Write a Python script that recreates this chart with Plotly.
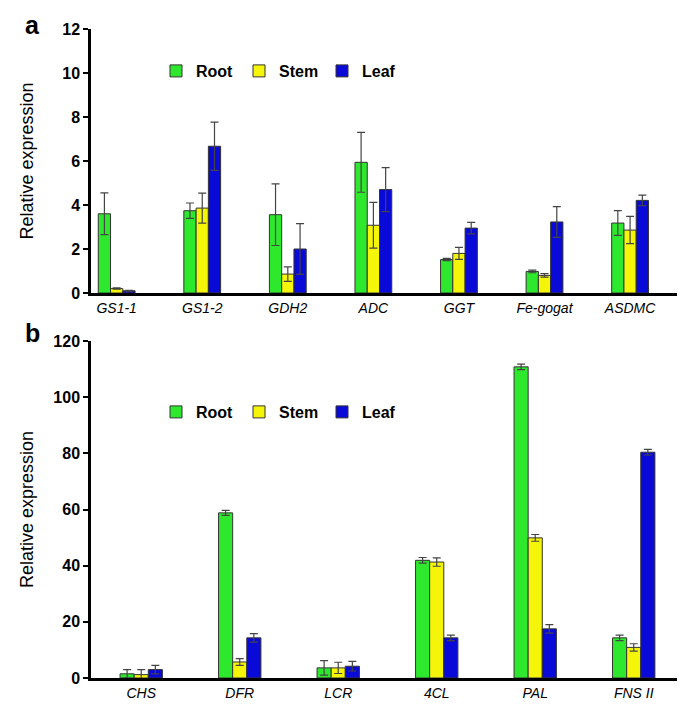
import plotly.graph_objects as go

# Panel a
genes_a = ["GS1-1", "GS1-2", "GDH2", "ADC", "GGT", "Fe-gogat", "ASDMC"]
root_a = [3.6, 3.74, 3.56, 5.94, 1.52, 0.98, 3.18]
stem_a = [0.2, 3.86, 0.86, 3.08, 1.8, 0.8, 2.86]
leaf_a = [0.1, 6.67, 2.0, 4.7, 2.95, 3.23, 4.21]
root_a_err = [0.95, 0.35, 1.4, 1.36, 0.05, 0.06, 0.56]
stem_a_err = [0.03, 0.68, 0.33, 1.04, 0.27, 0.08, 0.62]
leaf_a_err = [0.02, 1.1, 1.15, 1.0, 0.26, 0.7, 0.24]

# Panel b
genes_b = ["CHS", "DFR", "LCR", "4CL", "PAL", "FNS II"]
root_b = [1.5, 58.8, 3.6, 41.9, 110.8, 14.3]
stem_b = [1.2, 5.7, 3.6, 41.3, 49.9, 10.9]
leaf_b = [3.0, 14.3, 4.2, 14.3, 17.5, 80.4]
root_b_err = [1.5, 0.9, 2.6, 1.0, 1.0, 1.0]
stem_b_err = [1.8, 1.2, 2.0, 1.5, 1.2, 1.3]
leaf_b_err = [1.5, 1.5, 1.7, 1.0, 1.5, 1.0]

series = ["Root", "Stem", "Leaf"]
colors = ["#2ee82e", "#f5f50a", "#0a0ad8"]

W, H = 685, 718

fig = go.Figure()

for name, col, vals, errs in zip(series, colors, [root_a, stem_a, leaf_a],
                                 [root_a_err, stem_a_err, leaf_a_err]):
    fig.add_trace(go.Bar(
        x=genes_a, y=vals, name=name, xaxis="x", yaxis="y",
        marker=dict(color=col, line=dict(color="#333333", width=1)),
        error_y=dict(type="data", array=errs, visible=True, color="#444444",
                     thickness=1.2, width=4),
        legend="legend", showlegend=True,
    ))

for name, col, vals, errs in zip(series, colors, [root_b, stem_b, leaf_b],
                                 [root_b_err, stem_b_err, leaf_b_err]):
    fig.add_trace(go.Bar(
        x=genes_b, y=vals, name=name, xaxis="x2", yaxis="y2",
        marker=dict(color=col, line=dict(color="#333333", width=1)),
        error_y=dict(type="data", array=errs, visible=True, color="#444444",
                     thickness=1.2, width=4),
        legend="legend2", showlegend=True,
    ))

tickfont_y = dict(family="Liberation Sans Narrow, Arial Narrow, Liberation Sans, Arial",
                  size=16, color="black", weight="bold")
tickfont_x = dict(family="Liberation Sans, Arial", size=14, color="black", style="italic")
title_font = dict(family="Liberation Sans, Arial", size=18, color="black")

yax = dict(showgrid=False, zeroline=False, showline=True, linecolor="black", linewidth=2.5,
           ticks="outside", ticklen=5, tickwidth=2, tickcolor="black", tickfont=tickfont_y,
           automargin=False)
xax = dict(showgrid=False, zeroline=False, showline=True, linecolor="black", linewidth=2.5,
           ticks="", tickfont=tickfont_x, automargin=False, type="category")

legend_common = dict(orientation="h", font=dict(family="Liberation Sans, Arial", size=16,
                                                 color="black", weight="bold"),
                     bgcolor="rgba(0,0,0,0)", entrywidth=38, entrywidthmode="pixels",
                     xanchor="left", yanchor="middle", itemclick=False)

fig.update_layout(
    width=W, height=H,
    margin=dict(l=0, r=0, t=0, b=0),
    paper_bgcolor="white", plot_bgcolor="white",
    barmode="group", bargap=0.57, bargroupgap=0,
    xaxis=dict(xax, domain=[83 / W, 670 / W], anchor="y", range=[-0.3, 6.56]),
    yaxis=dict(yax, domain=[1 - 285 / H, 1 - 21 / H], anchor="x", range=[0, 12], dtick=2,
               title=dict(text="Relative expression", font=title_font, standoff=24)),
    xaxis2=dict(xax, domain=[83 / W, 673 / W], anchor="y2", range=[-0.51, 5.48]),
    yaxis2=dict(yax, domain=[1 - 670 / H, 1 - 333 / H], anchor="x2", range=[0, 120], dtick=20,
                title=dict(text="Relative expression", font=title_font, standoff=16)),
    legend=dict(legend_common, x=148 / W, y=1 - 63 / H),
    legend2=dict(legend_common, x=148 / W, y=1 - 404 / H),
    annotations=[
        dict(text="<b>a</b>", x=25 / W, y=1 - 17 / H, xref="paper", yref="paper",
             xanchor="center", yanchor="middle", showarrow=False,
             font=dict(family="Liberation Sans, Arial", size=25, color="black")),
        dict(text="<b>b</b>", x=25 / W, y=1 - 325 / H, xref="paper", yref="paper",
             xanchor="center", yanchor="middle", showarrow=False,
             font=dict(family="Liberation Sans, Arial", size=25, color="black")),
    ],
)

fig.write_html("out.html")
